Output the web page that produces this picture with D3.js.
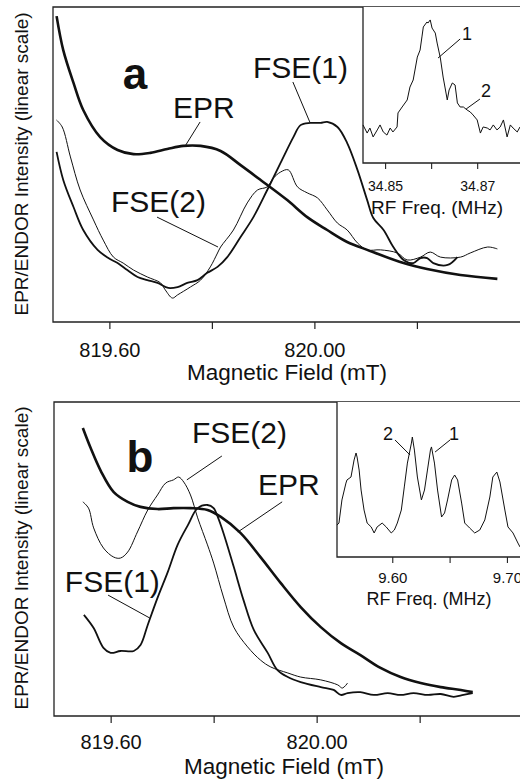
<!DOCTYPE html>
<html>
<head>
<meta charset="utf-8">
<script src="https://cdn.jsdelivr.net/npm/d3@7"></script>
<style>
  body { margin: 0; background: #fff; }
  svg { display: block; font-family: Arial, "Liberation Sans", sans-serif; }
</style>
</head>
<body>
<svg id="canvas"></svg>
<script>
// ---- panel a : main traces (field in mT, intensity in arb. units 0-100) ----
let eprAField = [819.497, 819.510, 819.530, 819.549, 819.582, 819.616, 819.647, 819.680, 819.713, 819.744, 819.778, 819.817, 819.856, 819.895, 819.947, 819.986, 820.025, 820.064, 820.103, 820.174, 820.220, 820.285, 820.357];
let eprAInt = [97.1, 86.3, 75.9, 67.3, 58.7, 54.6, 53.3, 53.7, 54.9, 55.9, 55.9, 54.3, 49.8, 45.1, 38.7, 33.3, 29.2, 25.4, 22.9, 18.7, 16.8, 14.9, 13.7];

let fse1AField = [819.497, 819.510, 819.530, 819.549, 819.577, 819.598, 819.616, 819.635, 819.655, 819.674, 819.694, 819.715, 819.733, 819.752, 819.772, 819.791, 819.811, 819.830, 819.856, 819.881, 819.908, 819.934, 819.959, 819.973, 819.992, 820.012, 820.025, 820.045, 820.064, 820.084, 820.103, 820.115, 820.135, 820.154, 820.174, 820.193, 820.207, 820.220, 820.232, 820.260, 820.279];
let fse1AInt = [54.0, 45.1, 36.5, 29.2, 22.9, 20.3, 18.7, 16.5, 14.3, 13.3, 12.4, 10.8, 11.1, 12.4, 13.3, 15.6, 17.5, 20.6, 27.0, 33.3, 41.9, 50.5, 58.7, 62.5, 63.2, 63.2, 63.5, 61.9, 56.8, 48.3, 38.7, 33.0, 29.2, 23.8, 19.7, 18.7, 20.3, 20.3, 18.7, 18.1, 20.6];

let fse2AField = [819.497, 819.508, 819.524, 819.543, 819.569, 819.588, 819.608, 819.627, 819.647, 819.674, 819.700, 819.709, 819.723, 819.733, 819.758, 819.778, 819.797, 819.811, 819.817, 819.842, 819.869, 819.889, 819.908, 819.920, 819.934, 819.949, 819.967, 819.986, 820.006, 820.025, 820.045, 820.064, 820.084, 820.103, 820.129, 820.162, 820.181, 820.207, 820.226, 820.246, 820.285, 820.304, 820.338, 820.357];
let fse2AInt = [64.1, 61.9, 52.4, 41.9, 32.4, 26.0, 20.6, 18.7, 16.5, 14.3, 12.4, 10.2, 7.6, 8.6, 11.1, 13.3, 17.5, 21.9, 23.8, 29.2, 37.8, 41.9, 42.9, 45.7, 47.6, 48.3, 42.9, 41.0, 39.4, 35.6, 31.4, 29.2, 25.1, 22.9, 22.9, 21.9, 19.7, 20.6, 22.2, 20.6, 20.6, 21.9, 23.8, 23.2];

// ---- panel a : ENDOR inset (RF in MHz) ----
let rfAFreq = [34.8452, 34.8461, 34.8467, 34.8474, 34.8483, 34.8489, 34.8496, 34.8504, 34.8511, 34.8517, 34.8526, 34.8528, 34.8537, 34.8548, 34.8554, 34.8561, 34.8570, 34.8576, 34.8580, 34.8583, 34.8591, 34.8593, 34.8598, 34.8602, 34.8609, 34.8613, 34.8620, 34.8626, 34.8630, 34.8635, 34.8639, 34.8646, 34.8652, 34.8657, 34.8663, 34.8670, 34.8678, 34.8685, 34.8691, 34.8700, 34.8707, 34.8713, 34.8722, 34.8728, 34.8735, 34.8743, 34.8750, 34.8757, 34.8765, 34.8772, 34.8778, 34.8787, 34.8793];
let rfAInt = [24.4, 19.2, 22.4, 16.7, 21.2, 24.4, 19.9, 17.9, 22.4, 19.9, 23.1, 32.1, 35.9, 40.4, 48.7, 53.2, 67.9, 72.4, 80.8, 87.2, 90.4, 89.7, 91.7, 86.5, 83.3, 76.9, 67.3, 55.1, 48.7, 40.4, 46.8, 51.3, 50.0, 38.5, 35.9, 35.9, 34.0, 32.7, 30.8, 27.6, 19.2, 23.1, 22.4, 21.2, 24.4, 21.2, 23.1, 27.6, 16.7, 24.4, 22.4, 19.9, 23.1];

// ---- panel b : main traces ----
let eprBField = [819.546, 819.561, 819.581, 819.606, 819.633, 819.658, 819.691, 819.722, 819.755, 819.788, 819.814, 819.852, 819.891, 819.930, 819.969, 820.008, 820.047, 820.085, 820.124, 820.163, 820.202, 820.241, 820.280, 820.303];
let eprBInt = [91.7, 85.4, 78.0, 71.3, 68.2, 66.6, 65.9, 66.2, 66.2, 65.6, 63.4, 58.3, 50.6, 42.4, 34.7, 28.3, 23.2, 19.4, 15.3, 12.4, 10.5, 9.2, 8.3, 7.6];

let fse2BField = [819.546, 819.557, 819.567, 819.586, 819.606, 819.619, 819.633, 819.652, 819.672, 819.691, 819.707, 819.722, 819.732, 819.742, 819.755, 819.769, 819.788, 819.800, 819.819, 819.839, 819.866, 819.891, 819.911, 819.944, 819.969, 820.008, 820.041, 820.050, 820.060];
let fse2BInt = [68.2, 66.2, 59.9, 53.5, 50.6, 50.3, 52.2, 58.6, 65.6, 70.4, 74.2, 75.2, 76.1, 74.5, 70.4, 63.1, 54.5, 48.7, 37.9, 28.3, 22.0, 17.8, 15.6, 13.7, 12.4, 11.5, 9.9, 8.9, 10.5];

let fse1BField = [819.548, 819.567, 819.586, 819.600, 819.619, 819.645, 819.658, 819.672, 819.691, 819.711, 819.730, 819.750, 819.769, 819.788, 819.800, 819.808, 819.819, 819.839, 819.858, 819.878, 819.905, 819.924, 819.944, 819.969, 820.008, 820.033, 820.047, 820.060, 820.085, 820.111, 820.138, 820.163, 820.188, 820.216, 820.241, 820.266, 820.285, 820.303];
let fse1BInt = [32.2, 28.0, 21.7, 20.1, 20.7, 20.7, 22.6, 29.0, 37.6, 45.9, 54.5, 60.8, 66.2, 67.2, 66.2, 63.4, 58.3, 47.5, 36.9, 27.4, 20.1, 14.6, 12.4, 10.8, 9.2, 8.3, 6.7, 7.3, 7.6, 6.7, 7.3, 6.7, 7.3, 6.7, 7.0, 6.1, 6.7, 7.3];

// ---- panel b : ENDOR inset ----
let rfBFreq = [9.5518, 9.5535, 9.5561, 9.5596, 9.5605, 9.5640, 9.5667, 9.5684, 9.5693, 9.5711, 9.5728, 9.5754, 9.5781, 9.5816, 9.5842, 9.5868, 9.5912, 9.5947, 9.5991, 9.6018, 9.6044, 9.6079, 9.6105, 9.6132, 9.6167, 9.6175, 9.6193, 9.6219, 9.6254, 9.6281, 9.6307, 9.6333, 9.6342, 9.6368, 9.6395, 9.6430, 9.6456, 9.6482, 9.6518, 9.6544, 9.6570, 9.6605, 9.6632, 9.6675, 9.6719, 9.6763, 9.6807, 9.6851, 9.6877, 9.6912, 9.6939, 9.6982, 9.7009, 9.7053, 9.7096, 9.7114];
let rfBInt = [20.6, 21.9, 36.8, 47.7, 49.7, 51.6, 62.6, 67.1, 64.5, 56.1, 43.2, 30.3, 21.9, 19.4, 15.5, 19.4, 21.9, 19.4, 15.5, 17.4, 21.9, 30.3, 45.2, 60.6, 73.5, 77.4, 69.0, 51.6, 36.8, 43.2, 56.1, 69.0, 71.0, 60.6, 43.2, 25.8, 28.4, 36.8, 49.7, 52.9, 49.7, 34.8, 21.9, 18.7, 15.5, 17.4, 23.9, 38.7, 51.6, 54.8, 48.4, 30.3, 19.4, 15.5, 9.0, 6.5];

// tick values and labels
let fieldTicks = [819.60, 819.80, 820.00, 820.20];
let fieldLabelled = [819.60, 820.00];
let rfATicks = [34.85, 34.86, 34.87];
let rfALabelled = [34.85, 34.87];
let rfBTicks = [9.60, 9.65, 9.70];
let rfBLabelled = [9.60, 9.70];

let yTitle = 'EPR/ENDOR Intensity (linear scale)';
let xTitle = 'Magnetic Field (mT)';
let rfTitle = 'RF Freq. (MHz)';

let width = 520;
let height = 782;
let ink = '#111';

let svg = d3.select('#canvas').attr('width', width).attr('height', height);

let pairs = (xs, ys) => d3.zip(xs, ys);

/* one panel = main field plot + RF inset in the top right corner */
let drawPanel = (p, idx) => {
    let g = svg.append('g');
    let x = d3.scaleLinear().domain([819.49, 820.40]).range(p.xRange);
    let y = d3.scaleLinear().domain([0, 100]).range([p.bottom, p.top]);

    g.append('clipPath').attr('id', 'clip' + idx)
        .append('rect').attr('x', p.xRange[0]).attr('y', p.top)
        .attr('width', width - p.xRange[0]).attr('height', p.bottom - p.top);

    // frame
    g.append('path')
        .attr('d', `M${width + 2},${p.top}H${p.xRange[0]}V${p.bottom}H${width + 2}`)
        .attr('fill', 'none').attr('stroke', '#222').attr('stroke-width', 1.3);

    let xAxis = d3.axisBottom(x).tickValues(fieldTicks).tickSizeInner(7).tickSizeOuter(0).tickPadding(p.tickPad)
        .tickFormat(d => fieldLabelled.some(v => Math.abs(v - d) < 1e-6) ? d.toFixed(2) : '');
    let ax = g.append('g').attr('transform', `translate(0,${p.bottom})`).call(xAxis);
    ax.select('.domain').remove();
    ax.selectAll('line').attr('stroke', '#222').attr('stroke-width', 1.2);
    ax.selectAll('text').attr('font-size', 20).attr('fill', ink).attr('font-family', 'Arial, "Liberation Sans", sans-serif');

    g.append('text').attr('x', p.xTitleX).attr('y', p.xTitleY).attr('text-anchor', 'middle')
        .attr('font-size', 22.5).attr('fill', ink).text(xTitle);
    g.append('text').attr('transform', `translate(28,${p.yTitleY}) rotate(-90)`).attr('text-anchor', 'middle')
        .attr('font-size', 19).attr('fill', ink).text(yTitle);

    // traces
    let line = d3.line().x(d => x(d[0])).y(d => y(d[1])).curve(d3.curveCatmullRom);
    let plot = g.append('g').attr('clip-path', `url(#clip${idx})`);
    p.series.forEach(s => {
        plot.append('path').datum(pairs(s.field, s.int))
            .attr('d', line).attr('fill', 'none').attr('stroke', ink)
            .attr('stroke-width', s.w).attr('stroke-linejoin', 'round');
    });

    // big panel letter
    g.append('text').attr('x', x(p.letter.at[0])).attr('y', y(p.letter.at[1]))
        .attr('text-anchor', 'middle').attr('font-size', 44).attr('font-weight', 'bold')
        .attr('fill', ink).text(p.letter.text);

    // trace labels with leader lines
    p.notes.forEach(n => {
        g.append('text').attr('x', x(n.at[0])).attr('y', y(n.at[1]))
            .attr('font-size', 30).attr('fill', ink).text(n.text);
        g.append('line').attr('x1', x(n.from[0])).attr('y1', y(n.from[1]))
            .attr('x2', x(n.to[0])).attr('y2', y(n.to[1]))
            .attr('stroke', ink).attr('stroke-width', 1);
    });

    // inset
    let ins = p.inset;
    let fx = d3.scaleLinear().domain(ins.domain).range([ins.left, width]);
    let fy = d3.scaleLinear().domain([0, 100]).range([ins.bottom, p.top]);
    let ig = g.append('g');
    ig.append('rect').attr('x', ins.left).attr('y', p.top).attr('width', width - ins.left)
        .attr('height', ins.bottom - p.top).attr('fill', '#fff');
    ig.append('path').attr('d', `M${ins.left},${p.top}V${ins.bottom}H${width + 2}`)
        .attr('fill', 'none').attr('stroke', '#222').attr('stroke-width', 1.3);
    ig.append('path').datum(pairs(ins.freq, ins.int))
        .attr('d', d3.line().x(d => fx(d[0])).y(d => fy(d[1])))
        .attr('fill', 'none').attr('stroke', ink).attr('stroke-width', 1).attr('stroke-linejoin', 'round');
    let fAxis = d3.axisBottom(fx).tickValues(ins.ticks).tickSizeInner(6).tickSizeOuter(0).tickPadding(ins.pad)
        .tickFormat(d => ins.labelled.some(v => Math.abs(v - d) < 1e-6) ? d.toFixed(2) : '');
    let fa = ig.append('g').attr('transform', `translate(0,${ins.bottom})`).call(fAxis);
    fa.select('.domain').remove();
    fa.selectAll('line').attr('stroke', '#222').attr('stroke-width', 1.1);
    fa.selectAll('text').attr('font-size', ins.tickFont).attr('fill', ink).attr('font-family', 'Arial, "Liberation Sans", sans-serif');
    ig.append('text').attr('x', ins.titleX).attr('y', ins.titleY).attr('text-anchor', 'middle')
        .attr('font-size', ins.titleFont).attr('fill', ink).text(rfTitle);
    ins.notes.forEach(n => {
        ig.append('text').attr('x', fx(n.at[0])).attr('y', fy(n.at[1])).attr('text-anchor', 'middle')
            .attr('font-size', 18).attr('fill', ink).text(n.text);
        ig.append('line').attr('x1', fx(n.from[0])).attr('y1', fy(n.from[1]))
            .attr('x2', fx(n.to[0])).attr('y2', fy(n.to[1]))
            .attr('stroke', ink).attr('stroke-width', 1);
    });
};

let panels = [
    {
        top: 7, bottom: 322, xRange: [53, 519.4], tickPad: 14,
        xTitleX: 287, xTitleY: 380, yTitleY: 164,
        series: [
            { field: fse2AField, int: fse2AInt, w: 1 },
            { field: fse1AField, int: fse1AInt, w: 1.8 },
            { field: eprAField, int: eprAInt, w: 2.6 }
        ],
        letter: { text: 'a', at: [819.650, 74.0] },
        notes: [
            { text: 'EPR', at: [819.724, 64.8], from: [819.777, 63.5], to: [819.748, 55.9] },
            { text: 'FSE(1)', at: [819.880, 77.5], from: [819.958, 76.2], to: [819.991, 63.5] },
            { text: 'FSE(2)', at: [819.603, 34.9], from: [819.693, 33.3], to: [819.812, 23.8] }
        ],
        inset: {
            left: 363, bottom: 163, domain: [34.8452, 34.8793],
            freq: rfAFreq, int: rfAInt, ticks: rfATicks, labelled: rfALabelled,
            pad: 12, tickFont: 14, titleX: 437, titleY: 214, titleFont: 19,
            notes: [
                { text: '1', at: [34.8678, 78.8], from: [34.8663, 79.5], to: [34.8615, 67.3] },
                { text: '2', at: [34.8719, 42.3], from: [34.8706, 41.0], to: [34.8676, 34.6] }
            ]
        }
    },
    {
        top: 402, bottom: 716, xRange: [54, 522.65], tickPad: 12,
        xTitleX: 284, xTitleY: 774, yTitleY: 558,
        series: [
            { field: fse2BField, int: fse2BInt, w: 1 },
            { field: fse1BField, int: fse1BInt, w: 1.8 },
            { field: eprBField, int: eprBInt, w: 2.6 }
        ],
        letter: { text: 'b', at: [819.657, 77.7] },
        notes: [
            { text: 'FSE(2)', at: [819.758, 86.9], from: [819.816, 82.8], to: [819.748, 75.2] },
            { text: 'EPR', at: [819.886, 70.4], from: [819.933, 68.2], to: [819.847, 58.6] },
            { text: 'FSE(1)', at: [819.511, 39.5], from: [819.595, 38.5], to: [819.676, 31.2] }
        ],
        inset: {
            left: 337, bottom: 557, domain: [9.5518, 9.7114],
            freq: rfBFreq, int: rfBInt, ticks: rfBTicks, labelled: rfBLabelled,
            pad: 9, tickFont: 15, titleX: 429, titleY: 605, titleFont: 18,
            notes: [
                { text: '2', at: [9.5963, 75.5], from: [9.6024, 75.5], to: [9.6155, 65.8] },
                { text: '1', at: [9.6539, 75.5], from: [9.6504, 75.5], to: [9.6373, 67.7] }
            ]
        }
    }
];

panels.forEach(drawPanel);
</script>
</body>
</html>
